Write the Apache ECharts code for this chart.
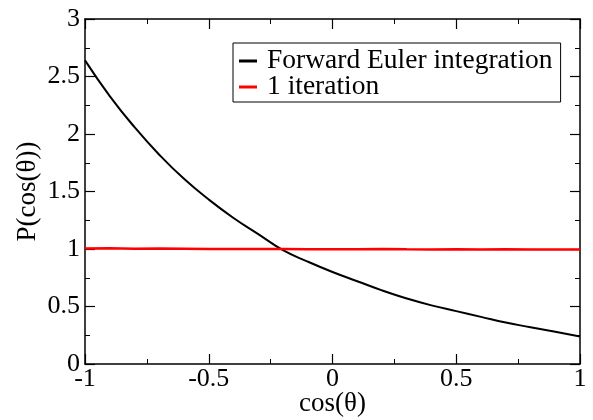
<!DOCTYPE html>
<html><head><meta charset="utf-8">
<script src="https://cdn.jsdelivr.net/npm/echarts@6/dist/echarts.min.js"></script>
<style>html,body{margin:0;padding:0;background:#fff}#c{width:593px;height:420px}</style>
</head><body><div id="c"></div>
<script>
const xEuler = [-1.0,-0.9,-0.8,-0.7,-0.6,-0.5,-0.4,-0.3,-0.2,-0.1,0.0,0.1,0.2,0.3,0.4,0.5,0.6,0.7,0.8,0.9,1.0];
const yEuler = [2.64,2.33,2.06,1.82,1.61,1.43,1.27,1.13,0.99,0.89,0.80,0.72,0.64,0.57,0.51,0.46,0.41,0.36,0.32,0.28,0.24];
const xIter = [-1.0,-0.9,-0.8,-0.7,-0.6,-0.5,-0.4,-0.3,-0.2,-0.1,0.0,0.1,0.2,0.3,0.4,0.5,0.6,0.7,0.8,0.9,1.0];
const yIter = [1.005,1.006,1.003,1.004,1.002,0.999,1.001,0.999,1.000,0.998,0.997,0.998,0.999,0.997,0.996,0.998,0.996,0.997,0.995,0.996,0.995];
const xTicks = ['-1','-0.5','0','0.5','1'];
const yTicks = ['0','0.5','1','1.5','2','2.5','3'];

const font = 'Liberation Serif';
const chart = echarts.init(document.getElementById('c'));
const axisCommon = {
  axisLine:{show:true,onZero:false,lineStyle:{color:'#000',width:1.5}},
  axisTick:{show:true,inside:true,length:10,lineStyle:{color:'#000',width:1.2}},
  minorTick:{show:true,splitNumber:2,length:5,lineStyle:{color:'#000',width:1}},
  splitLine:{show:false}
};
chart.setOption({
  animation:false,
  grid:{left:85,right:13,top:19,bottom:56,containLabel:false,outerBoundsMode:'none'},
  legend:{
    orient:'vertical', left:233, top:43,
    padding:[4,8,1,6], itemGap:-2,
    borderColor:'#000', borderWidth:1,
    itemWidth:18, itemHeight:3, icon:'rect',
    textStyle:{fontFamily:font,fontSize:27.5,lineHeight:26,color:'#000',padding:[0,0,0,5]},
    data:['Forward Euler integration','1 iteration']
  },
  xAxis:[
    Object.assign({type:'value',min:-1,max:1,interval:0.5,position:'bottom',
      name:'cos(θ)',nameLocation:'middle',nameGap:26,nameMoveOverlap:false,
      nameTextStyle:{fontFamily:font,fontSize:27,color:'#000'},
      axisLabel:{fontFamily:font,fontSize:26,color:'#000',margin:2,
        formatter:v=>xTicks[Math.round((v+1)/0.5)]}},axisCommon),
    Object.assign({type:'value',min:-1,max:1,interval:0.5,position:'top',axisLabel:{show:false}},axisCommon)
  ],
  yAxis:[
    Object.assign({type:'value',min:0,max:3,interval:0.5,position:'left',
      name:'P(cos(θ))',nameLocation:'middle',nameGap:44,nameMoveOverlap:false,
      nameTextStyle:{fontFamily:font,fontSize:27,color:'#000'},
      axisLabel:{fontFamily:font,fontSize:26,color:'#000',margin:5,
        formatter:v=>yTicks[Math.round(v/0.5)]}},axisCommon),
    Object.assign({type:'value',min:0,max:3,interval:0.5,position:'right',axisLabel:{show:false}},axisCommon)
  ],
  series:[
    {name:'Forward Euler integration',type:'line',smooth:true,showSymbol:false,
      lineStyle:{color:'#000',width:2},itemStyle:{color:'#000'},
      data:xEuler.map((x,i)=>[x,yEuler[i]])},
    {name:'1 iteration',type:'line',showSymbol:false,
      lineStyle:{color:'#ff0000',width:2.5},itemStyle:{color:'#ff0000'},
      data:xIter.map((x,i)=>[x,yIter[i]])}
  ]
});
</script></body></html>
